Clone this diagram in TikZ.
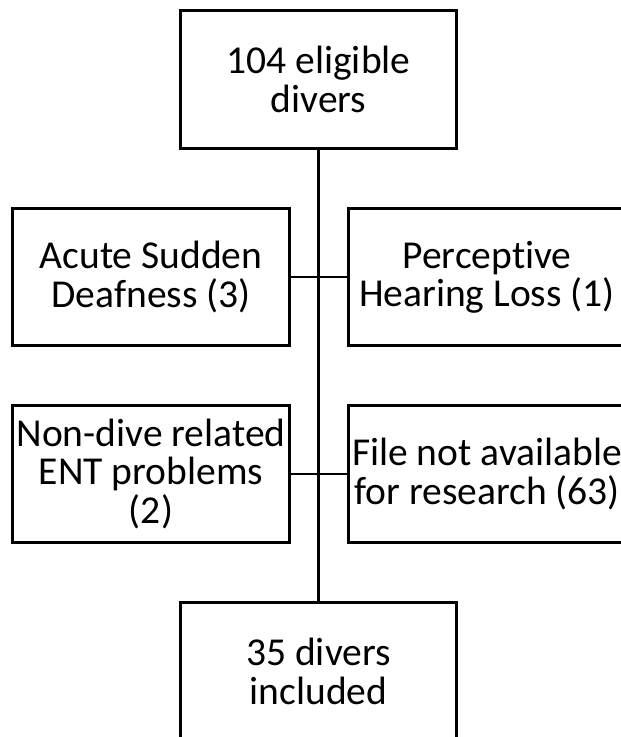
\documentclass[tikz,border=0pt]{standalone}
\usepackage{fontspec}
\setmainfont{Carlito}[Ligatures=CommonOff]
\usetikzlibrary{positioning}
\tikzset{kasten/.style={draw=black, line width=1.7pt, align=center, inner sep=0pt, minimum width=5.54cm, minimum height=2.76cm, font=\fontsize{22.5}{21.8}\selectfont}}

\begin{document}
\begin{tikzpicture}[x=.02cm, y=-.02cm]
	\useasboundingbox (0,0) rectangle (621,737);
	%Kaesten
	\node[kasten, minimum height=2.78cm] (eligible) at (318.5,79.5) {104 eligible\\divers};
	\node[kasten] (asd) at (151,277) {Acute Sudden\\Deafness (3)};
	\node[kasten] (phl) at (487,277) {Perceptive\\Hearing Loss (1)};
	\node[kasten] (ent) at (151,474) {Non-dive related\\ENT problems\\(2)};
	\node[kasten] (file) at (487,474) {File not available\\for research (63)};
	\node[kasten, minimum height=2.78cm] (included) at (318.5,671.5) {35 divers\\included};
	%Linien
	\draw[line width=1.7pt] (eligible.south) -- (included.north);
	\draw[line width=1.7pt] (asd.east) -- (phl.west);
	\draw[line width=1.7pt] (ent.east) -- (file.west);
\end{tikzpicture}
\end{document}
